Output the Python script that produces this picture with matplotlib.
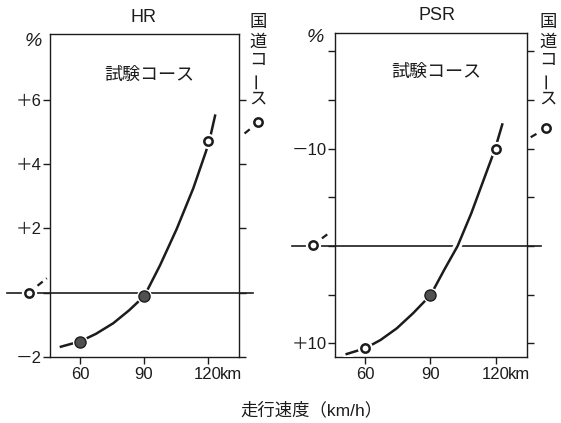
import matplotlib
matplotlib.use("Agg")
import matplotlib.pyplot as plt

plt.rcParams['font.family'] = ['Liberation Sans', 'Noto Sans CJK JP']

W, H = 561, 423
INK = '#1c1c1c'

# measured speeds (km/h)
speed = [60, 90, 120]

# HR (%) test course
hr_points = [-1.52, -0.10, 4.72]
hr_open = [False, False, True]
hr_curve_x = [51.1, 60.3, 67.5, 75.6, 83.0, 90.2, 97.5, 105.3, 113.1, 118.8, 120.6, 123.3]
hr_curve_y = [-1.68, -1.51, -1.28, -0.95, -0.55, -0.10, 0.85, 1.98, 3.25, 4.35, 4.72, 5.51]
# HR national road
hr_road_x = [36.1, 143.6]
hr_road_y = [0.0, 5.3]
hr_stub_x = [44.5, 135.5]
hr_stub_y = [0.45, 4.87]

# PSR (%) test course
psr_points = [10.5, 5.03, -9.93]
psr_open = [True, False, True]
psr_curve_x = [51.4, 60.0, 67.0, 74.5, 82.0, 90.1, 96.3, 102.5, 108.8, 115.0, 119.7, 123.1]
psr_curve_y = [11.09, 10.5, 9.65, 8.45, 6.9, 5.03, 2.46, 0.0, -3.36, -7.1, -9.93, -12.5]
# PSR national road
psr_road_x = [35.9, 143.3]
psr_road_y = [-0.1, -12.1]
psr_stub_x = [43.4, 135.2]
psr_stub_y = [-1.37, -11.06]

hr_ticks = [-2, 0, 2, 4, 6]
hr_labels = ['－2', '', '＋2', '＋4', '＋6']
psr_ticks = [-20, -15, -10, -5, 0, 5, 10]
psr_labels = ['', '', '－10', '', '', '', '＋10']

base_x = [26, 141]


def fpos(x, y):
    return x / W, 1 - y / H


def marker(ax, x, y, is_open, clip=True):
    ax.plot(x, y, 'o', ms=11, color='white', mec='none', zorder=5, clip_on=clip)
    if is_open:
        ax.plot(x, y, 'o', ms=6, mfc='white', mec=INK, mew=1.8, zorder=6, clip_on=clip)
    else:
        ax.plot(x, y, 'o', ms=8, mfc='#505050', mec=INK, mew=1.0, zorder=6, clip_on=clip)


def panel(ax, cx, cy, pts, opens, rx, ry, sx, sy, ticks, labels):
    ax.plot(base_x, [0, 0], color=INK, lw=1.2, clip_on=False, zorder=2)
    ax.plot(cx, cy, color='white', lw=6, zorder=3)
    ax.plot(cx, cy, color=INK, lw=1.8, zorder=4)
    for x, y, o in zip(speed, pts, opens):
        marker(ax, x, y, o)
    for x0, y0, x1, y1 in zip(rx, ry, sx, sy):
        ax.plot([x0, x1], [y0, y1], color=INK, lw=1.6, ls=(0, (3, 2)),
                clip_on=False, zorder=4)
        marker(ax, x0, y0, True, clip=False)

    ax.set_xlim(46, 134.5)
    ax.set_xticks(speed)
    ax.set_xticklabels(['60', '90', '120'])
    ax.set_yticks(ticks)
    ax.set_yticklabels(labels)
    ax.tick_params(direction='out', length=5, width=1, right=True, top=False,
                   labelsize=12, pad=2, color=INK, labelcolor=INK)
    ax.tick_params(axis='y', pad=1)
    for s in ax.spines.values():
        s.set_linewidth(1.0)
        s.set_color(INK)
    ax.annotate('km', xy=(120, 0), xycoords=('data', 'axes fraction'),
                xytext=(8.8, -7), textcoords='offset points',
                ha='left', va='top', fontsize=12, color=INK)


fig = plt.figure(figsize=(5.61, 4.23), dpi=100)
ax1 = fig.add_axes([50 / W, 1 - 357 / H, 189 / W, 323 / H])
ax2 = fig.add_axes([335 / W, 1 - 357 / H, 192 / W, 324 / H])

panel(ax1, hr_curve_x, hr_curve_y, hr_points, hr_open,
      hr_road_x, hr_road_y, hr_stub_x, hr_stub_y, hr_ticks, hr_labels)
ax1.set_ylim(-2, 8.05)

panel(ax2, psr_curve_x, psr_curve_y, psr_points, psr_open,
      psr_road_x, psr_road_y, psr_stub_x, psr_stub_y, psr_ticks, psr_labels)
ax2.set_ylim(11.4, -21.9)

# titles and labels
fig.text(*fpos(143, 18), 'HR', ha='center', va='center', fontsize=13, color=INK)
fig.text(*fpos(437, 16), 'PSR', ha='center', va='center', fontsize=13, color=INK)
fig.text(*fpos(33, 41), '%', ha='center', va='center', fontsize=14, color=INK,
         style='italic')
fig.text(*fpos(315, 38), '%', ha='center', va='center', fontsize=14, color=INK,
         style='italic')
fig.text(*fpos(149, 75), '試験コース', ha='center', va='center', fontsize=13, color=INK)
fig.text(*fpos(436, 72), '試験コース', ha='center', va='center', fontsize=13, color=INK)

for cx in [258, 548]:
    for i, ch in enumerate('国道コース'):
        rot = 90 if ch == 'ー' else 0
        fig.text(*fpos(cx, 23 + 19 * i), ch, ha='center', va='center',
                 fontsize=12.5, color=INK, rotation=rot)

fig.text(*fpos(311, 410), '走行速度（km/h）', ha='center', va='center',
         fontsize=12.5, color=INK)

fig.savefig('out.png', dpi=100, facecolor='white')
